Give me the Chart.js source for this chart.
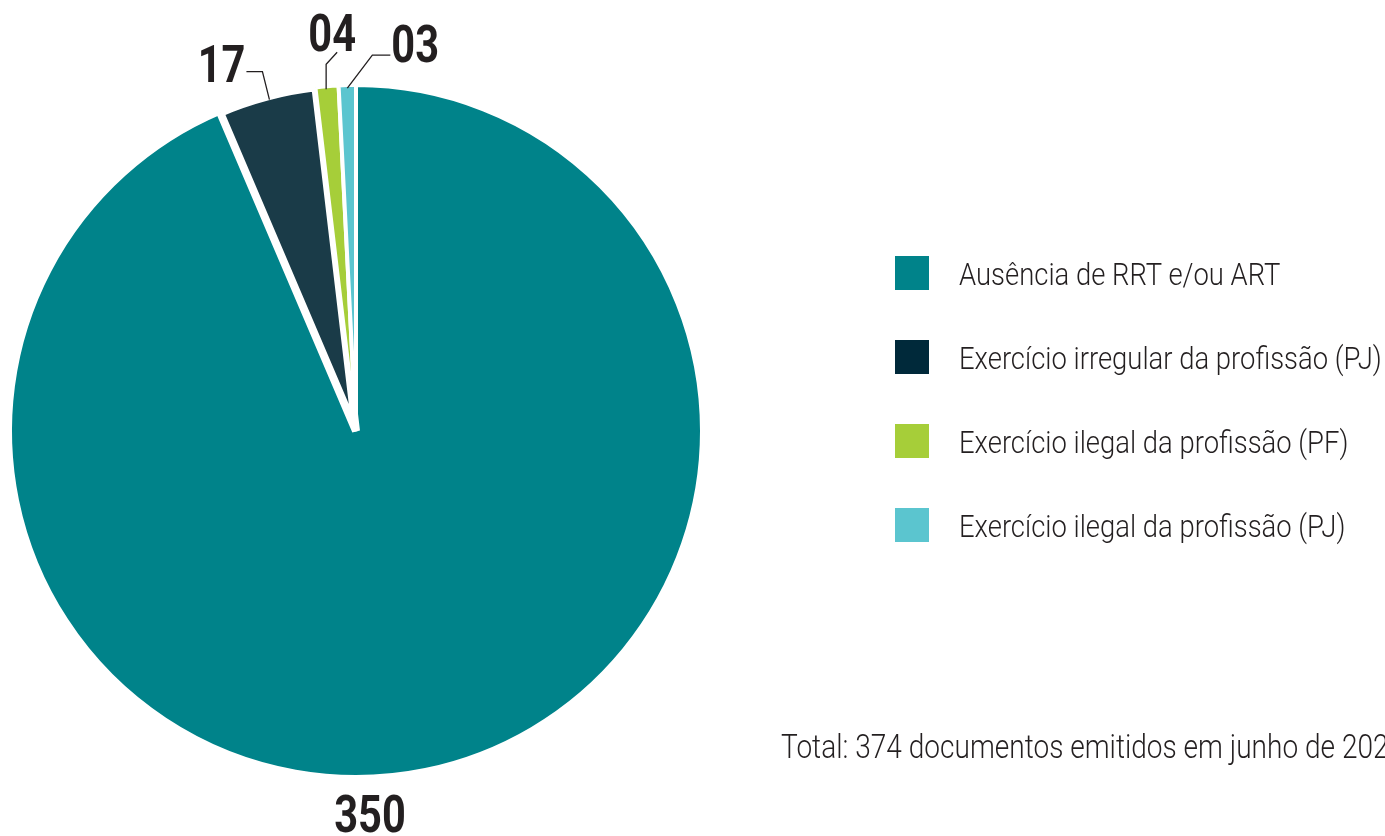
<!DOCTYPE html>
<html><head><meta charset="utf-8">
<script src="https://cdn.jsdelivr.net/npm/chart.js@4.4.1/dist/chart.umd.min.js"></script>
<style>
html,body{margin:0;padding:0;background:#fff;}
body{width:1385px;height:836px;overflow:hidden;position:relative;font-family:Roboto,"Liberation Sans",sans-serif;color:#231f20;}
#wrap{position:absolute;left:0;top:0;width:1385px;height:836px;}
#legend{position:absolute;left:895px;top:0;width:490px;height:836px;}
.sw{position:absolute;left:0;width:34px;height:34px;}
.tx{position:absolute;left:64px;font-size:31px;line-height:31px;font-weight:300;white-space:nowrap;transform:scaleX(0.885);transform-origin:0 50%;}
#total{position:absolute;left:781px;font-size:33px;line-height:33px;font-weight:300;white-space:nowrap;transform:scaleX(0.85);transform-origin:0 50%;}
</style>
</head><body>
<div id="wrap"><canvas id="c"></canvas></div>
<div id="legend"></div>
<div id="total"></div>
<script>
// ---- data ----
const categories = ["Ausência de RRT e/ou ART","Exercício irregular da profissão (PJ)","Exercício ilegal da profissão (PF)","Exercício ilegal da profissão (PJ)"];
const values = [350, 17, 4, 3];
const sliceColors = ["#00838A", "#1A3B48", "#A6CE39", "#5BC5CF"];
const legendColors = ["#00838A", "#00293A", "#A6CE39", "#5BC5CF"];
const totalNote = "Total: 374 documentos emitidos em junho de 2023";

// ---- label styling (positions relative to slice edge) ----
const labelStyle = [
  {angle: Math.PI/2, path: null, tx: 14, ty: 57, align: 'center'},
  {path: [[2,1],[-5,-27],[-21,-27]], tx: -1, ty: 10, align: 'right'},
  {path: [[-1,1],[-1,-24],[10,-36]], tx: -5, ty: -1, align: 'center'},
  {path: [[0,1],[25,-32],[43,-32]], tx: 1, ty: 7, align: 'left'}
];

function fmt(v){ return String(v).padStart(2,'0'); }

// legend
const leg = document.getElementById('legend');
categories.forEach((c,i)=>{
  const base = 285 + i*84;
  const sw = document.createElement('div');
  sw.className='sw'; sw.style.top=(base-29)+'px'; sw.style.background=legendColors[i];
  leg.appendChild(sw);
  const t = document.createElement('div');
  t.className='tx'; t.style.top=(base-26)+'px'; t.textContent=c;
  leg.appendChild(t);
});
const tot = document.getElementById('total');
tot.textContent = totalNote;
tot.style.top = (758-28)+'px';

const labelPlugin = {
  id:'sliceLabels',
  afterDatasetsDraw(chart){
    const ctx = chart.ctx;
    const meta = chart.getDatasetMeta(0);
    meta.data.forEach((arc,i)=>{
      const p = arc.getProps(['x','y','startAngle','endAngle','outerRadius'], true);
      const s = labelStyle[i];
      const ang = s.angle !== undefined ? s.angle : (p.startAngle+p.endAngle)/2;
      const r = p.outerRadius - 2;
      const ex = p.x + Math.cos(ang)*r, ey = p.y + Math.sin(ang)*r;
      let lx = ex, ly = ey;
      ctx.save();
      if (s.path){
        ctx.beginPath();
        s.path.forEach((pt,k)=>{ const X=ex+pt[0], Y=ey+pt[1]; if(k===0) ctx.moveTo(X,Y); else ctx.lineTo(X,Y); lx=X; ly=Y; });
        ctx.strokeStyle='#231f20'; ctx.lineWidth=1.3; ctx.stroke();
      }
      ctx.translate(lx + s.tx, ly + s.ty);
      ctx.scale(0.8,1);
      ctx.font = 'bold 52px Roboto, "Liberation Sans", sans-serif';
      ctx.fillStyle = '#231f20';
      ctx.textAlign = s.align;
      ctx.textBaseline = 'alphabetic';
      ctx.fillText(fmt(values[i]), 0, 0);
      ctx.restore();
    });
  }
};

new Chart(document.getElementById('c'), {
  type: 'pie',
  data: {
    labels: categories,
    datasets: [{
      data: values,
      backgroundColor: sliceColors,
      borderColor: '#ffffff',
      borderWidth: [4, 8, 4, 4],
      radius: 346
    }]
  },
  options: {
    responsive: true,
    maintainAspectRatio: false,
    animation: false,
    layout: {padding: {left: 0, right: 673, top: 26, bottom: 0}},
    plugins: {legend: {display: false}, tooltip: {enabled: false}}
  },
  plugins: [labelPlugin]
});
</script>
</body></html>
